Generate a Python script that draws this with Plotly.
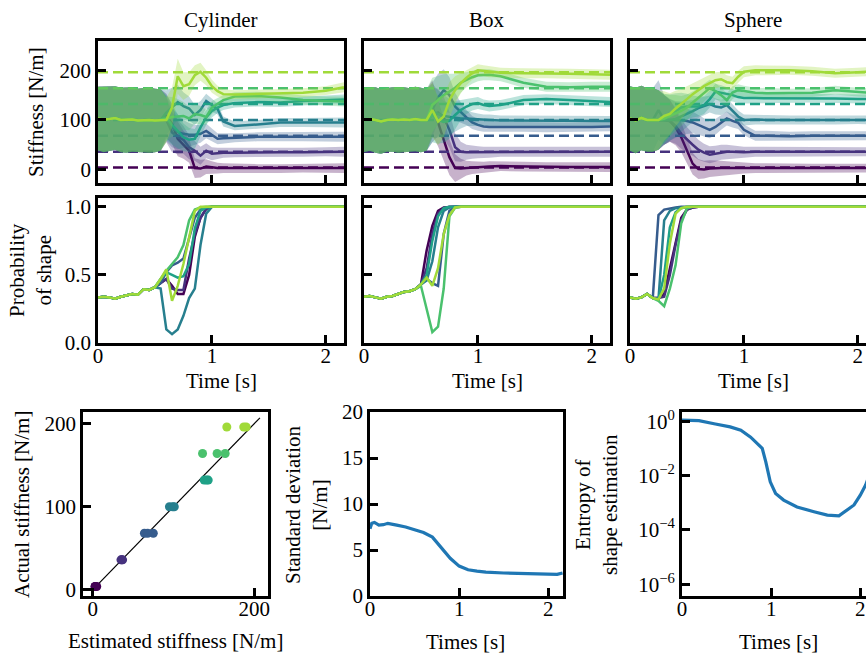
import plotly.graph_objects as go

W, H = 866, 656
FONT = "Liberation Serif, Times New Roman, DejaVu Serif, serif"
FS = 21

COLORS = ["#440154", "#46327e", "#365c8d", "#277f8e", "#1fa187", "#4ac16d", "#a0da39"]
TRUE_STIFFNESS = [4, 36, 68, 100, 132, 164, 196]
SHAPES = ["Cylinder", "Box", "Sphere"]

# ---------------- Stiffness estimates (mean / std) ----------------
cyl_t_pre = [0.0, 0.05, 0.1, 0.15, 0.2, 0.25, 0.3, 0.35, 0.4, 0.45, 0.5, 0.55]
cyl_mean_pre = [103, 101, 102, 104, 100, 100, 101, 99, 100, 100, 99, 100]
cyl_std_pre = [64, 66, 65, 64, 65, 66, 65, 64, 65, 66, 64, 62]
cyl_t_post = [0.6, 0.65, 0.7, 0.75, 0.8, 0.85, 0.9, 0.95, 1.0, 1.05, 1.1, 1.2, 1.4, 1.6, 1.8, 2.0, 2.16]
cyl_std_post = [45, 40, 35, 28, 24, 20, 18, 15, 13, 11, 10, 9, 9, 9, 9, 9, 10]
cyl_mean_post = [
    [108, 92, 62, 50, 38, 3, 2, 6, 4, 3, 3, 3, 2, 2, 3, 3, 3],
    [100, 75, 66, 60, 45, 38, 28, 38, 32, 33, 34, 34, 35, 35, 35, 36, 36],
    [102, 85, 76, 72, 70, 70, 72, 78, 70, 62, 63, 64, 66, 66, 66, 66, 66],
    [115, 125, 136, 128, 123, 110, 120, 138, 130, 122, 97, 88, 91, 95, 95, 95, 95],
    [105, 90, 78, 65, 60, 62, 85, 105, 118, 125, 130, 134, 136, 135, 138, 140, 141],
    [102, 106, 107, 108, 103, 112, 110, 106, 125, 133, 140, 147, 148, 145, 140, 138, 137],
    [100, 125, 188, 168, 172, 190, 197, 185, 168, 158, 152, 151, 152, 153, 155, 159, 166],
]

box_t_pre = [0.0, 0.05, 0.1, 0.15, 0.2, 0.25, 0.3, 0.35, 0.4, 0.45, 0.5]
box_mean_pre = [100, 102, 100, 97, 100, 101, 100, 101, 100, 102, 100]
box_std_pre = [65, 64, 66, 65, 64, 65, 66, 65, 64, 65, 65]
box_t_post = [0.55, 0.6, 0.65, 0.7, 0.75, 0.8, 0.85, 0.9, 0.95, 1.0, 1.05, 1.1, 1.2, 1.4, 1.6, 1.8, 2.0, 2.16]
box_std_post = [62, 55, 48, 42, 36, 28, 20, 15, 13, 12, 11, 11, 10, 10, 10, 10, 10, 10]
box_mean_post = [
    [100, 125, 95, 60, 25, 3, 2, 3, 4, 4, 5, 6, 7, 6, 5, 5, 5, 5],
    [100, 110, 115, 105, 80, 45, 36, 35, 35, 35, 35, 35, 36, 36, 36, 36, 36, 36],
    [100, 120, 145, 160, 150, 127, 115, 105, 95, 90, 87, 86, 86, 86, 85, 85, 86, 87],
    [100, 118, 112, 108, 106, 104, 103, 103, 102, 101, 100, 100, 99, 99, 99, 99, 98, 98],
    [100, 110, 100, 96, 98, 110, 120, 127, 132, 134, 130, 128, 130, 140, 142, 140, 138, 136],
    [100, 130, 140, 150, 157, 165, 175, 181, 186, 190, 191, 191, 188, 175, 167, 166, 167, 167],
    [100, 120, 97, 107, 140, 160, 174, 185, 194, 200, 199, 197, 195, 194, 194, 193, 192, 191],
]

sph_t_pre = [0.0, 0.05, 0.1, 0.15, 0.2]
sph_mean_pre = [103, 99, 104, 100, 100]
sph_std_pre = [65, 66, 65, 64, 64]
sph_t_post = [0.25, 0.3, 0.35, 0.4, 0.45, 0.5, 0.55, 0.6, 0.65, 0.7, 0.75, 0.8, 0.85, 0.9, 0.95,
              1.0, 1.1, 1.2, 1.4, 1.6, 1.8, 2.0, 2.16]
sph_std_post = [60, 50, 42, 36, 30, 26, 22, 20, 18, 17, 16, 15, 14, 13, 12, 11, 10, 10, 9, 9, 9, 9, 9]
sph_mean_post = [
    [100, 100, 98, 85, 65, 38, 12, 1, 0, 2, 3, 3, 3, 3, 3, 3, 3, 3, 3, 3, 3, 3, 3],
    [100, 100, 98, 88, 72, 60, 50, 40, 34, 30, 32, 35, 36, 36, 35, 35, 36, 36, 36, 36, 36, 36, 36],
    [120, 100, 100, 100, 100, 98, 95, 90, 85, 80, 86, 95, 103, 98, 94, 80, 68, 68, 67, 68, 68, 68, 68],
    [100, 100, 100, 102, 107, 112, 118, 124, 128, 132, 127, 125, 130, 118, 107, 100, 101, 100, 100, 100, 100, 101, 100],
    [100, 102, 110, 118, 125, 127, 127, 127, 130, 142, 157, 155, 152, 150, 146, 144, 144, 144, 143, 144, 143, 142, 142],
    [100, 103, 108, 114, 118, 125, 135, 144, 155, 164, 158, 150, 140, 155, 160, 158, 155, 154, 154, 155, 160, 156, 154],
    [100, 108, 112, 123, 132, 142, 152, 160, 168, 174, 180, 182, 176, 174, 187, 197, 200, 200, 200, 198, 194, 196, 198],
]

# ---------------- Probability of shape ----------------
cyl_pt_pre = [0.0, 0.05, 0.1, 0.15, 0.2, 0.25, 0.3, 0.35, 0.4, 0.45, 0.5]
cyl_p_pre = [0.335, 0.34, 0.335, 0.325, 0.34, 0.35, 0.36, 0.355, 0.395, 0.39, 0.41]
cyl_pt_post = [0.55, 0.6, 0.65, 0.7, 0.75, 0.8, 0.85, 0.9, 0.95, 1.0, 1.1, 2.16]
cyl_p_post = [
    [0.44, 0.47, 0.42, 0.36, 0.36, 0.50, 0.78, 0.92, 0.985, 1.0, 1.0, 1.0],
    [0.44, 0.47, 0.40, 0.39, 0.39, 0.62, 0.80, 0.92, 0.985, 1.0, 1.0, 1.0],
    [0.44, 0.52, 0.57, 0.59, 0.62, 0.78, 0.92, 0.98, 0.995, 1.0, 1.0, 1.0],
    [0.40, 0.10, 0.065, 0.10, 0.20, 0.33, 0.40, 0.72, 0.95, 1.0, 1.0, 1.0],
    [0.47, 0.52, 0.50, 0.48, 0.49, 0.58, 0.84, 0.97, 0.995, 1.0, 1.0, 1.0],
    [0.47, 0.53, 0.58, 0.63, 0.72, 0.90, 0.98, 0.995, 1.0, 1.0, 1.0, 1.0],
    [0.47, 0.54, 0.31, 0.42, 0.58, 0.78, 0.97, 1.0, 1.0, 1.0, 1.0, 1.0],
]

box_pt_pre = [0.0, 0.05, 0.1, 0.15, 0.2, 0.25, 0.3, 0.35, 0.4, 0.45]
box_p_pre = [0.34, 0.345, 0.335, 0.325, 0.34, 0.345, 0.36, 0.375, 0.38, 0.395]
box_pt_post = [0.5, 0.55, 0.6, 0.65, 0.7, 0.75, 0.8, 0.85, 2.16]
box_p_post = [
    [0.43, 0.68, 0.86, 0.97, 0.995, 1.0, 1.0, 1.0, 1.0],
    [0.43, 0.55, 0.80, 0.95, 0.99, 1.0, 1.0, 1.0, 1.0],
    [0.43, 0.47, 0.44, 0.42, 0.80, 0.97, 0.995, 1.0, 1.0],
    [0.43, 0.46, 0.60, 0.85, 0.97, 0.995, 1.0, 1.0, 1.0],
    [0.43, 0.50, 0.75, 0.93, 0.99, 1.0, 1.0, 1.0, 1.0],
    [0.42, 0.25, 0.08, 0.12, 0.40, 0.93, 0.995, 1.0, 1.0],
    [0.43, 0.48, 0.42, 0.55, 0.80, 0.94, 0.995, 1.0, 1.0],
]

sph_pt_pre = [0.0, 0.05, 0.1, 0.15]
sph_p_pre = [0.335, 0.325, 0.335, 0.36]
sph_pt_post = [0.2, 0.25, 0.3, 0.35, 0.4, 0.45, 0.5, 0.55, 0.6, 2.16]
sph_p_post = [
    [0.33, 0.33, 0.36, 0.55, 0.75, 0.92, 0.98, 0.995, 1.0, 1.0],
    [0.33, 0.33, 0.34, 0.50, 0.72, 0.90, 0.98, 0.995, 1.0, 1.0],
    [0.33, 0.94, 0.98, 0.99, 0.995, 1.0, 1.0, 1.0, 1.0, 1.0],
    [0.33, 0.32, 0.90, 0.97, 0.99, 0.995, 1.0, 1.0, 1.0, 1.0],
    [0.33, 0.32, 0.50, 0.85, 0.96, 0.99, 1.0, 1.0, 1.0, 1.0],
    [0.33, 0.31, 0.27, 0.40, 0.57, 0.88, 0.99, 1.0, 1.0, 1.0],
    [0.33, 0.32, 0.40, 0.73, 0.95, 0.99, 1.0, 1.0, 1.0, 1.0],
]

# ---------------- Final estimates (cylinder, box, sphere) ----------------
final_estimates = [
    [3, 5, 3],
    [36, 35, 37],
    [64, 75, 68],
    [95, 99, 101],
    [141, 138, 143],
    [136, 164, 154],
    [166, 190, 187],
]
ideal_line = [5, 207]

# ---------------- Aggregate std and entropy ----------------
agg_t = [0.0, 0.02, 0.05, 0.1, 0.15, 0.2, 0.3, 0.4, 0.5, 0.6, 0.7, 0.8, 0.9, 1.0, 1.1, 1.2, 1.3,
         1.5, 1.7, 1.9, 2.0, 2.1, 2.16]
agg_std = [7.3, 7.9, 8.0, 7.7, 7.75, 7.9, 7.7, 7.5, 7.2, 6.9, 6.4, 5.3, 4.1, 3.25, 2.85, 2.7, 2.6,
           2.5, 2.45, 2.42, 2.4, 2.35, 2.5]
ent_t = [0.0, 0.19, 0.36, 0.54, 0.66, 0.77, 0.9, 0.94, 0.99, 1.05, 1.14, 1.29, 1.48, 1.63, 1.76,
         1.82, 1.93, 2.0, 2.06, 2.1, 2.16]
ent_val = [1.1, 1.05, 0.81, 0.62, 0.47, 0.26, 0.1, 0.032, 0.0059, 0.0022, 0.00126, 0.0007, 0.00047,
           0.00035, 0.00033, 0.00047, 0.00083, 0.0019, 0.0045, 0.01, 0.03]


def rgba(hexc, a):
    h = hexc.lstrip("#")
    r, g, b = int(h[0:2], 16), int(h[2:4], 16), int(h[4:6], 16)
    return f"rgba({r},{g},{b},{a})"


fig = go.Figure()

stiff_sets = [
    (cyl_t_pre, cyl_mean_pre, cyl_std_pre, cyl_t_post, cyl_mean_post, cyl_std_post),
    (box_t_pre, box_mean_pre, box_std_pre, box_t_post, box_mean_post, box_std_post),
    (sph_t_pre, sph_mean_pre, sph_std_pre, sph_t_post, sph_mean_post, sph_std_post),
]
for j, (tp, mp, sp, tq, mq, sq) in enumerate(stiff_sets):
    ax = j + 1
    xa, ya = f"x{ax}", f"y{ax}"
    t = tp + tq
    sd = sp + sq
    for k in range(7):
        m = mp + mq[k]
        up = [a + b for a, b in zip(m, sd)]
        lo = [a - b for a, b in zip(m, sd)]
        fig.add_trace(go.Scatter(x=t + t[::-1], y=up + lo[::-1], fill="toself",
                                 fillcolor=rgba(COLORS[k], 0.3), line=dict(width=0),
                                 mode="lines", hoverinfo="skip", xaxis=xa, yaxis=ya))
        fig.add_trace(go.Scatter(x=t, y=m, mode="lines", line=dict(color=COLORS[k], width=2.5),
                                 xaxis=xa, yaxis=ya))
        fig.add_trace(go.Scatter(x=[t[0], t[-1]], y=[TRUE_STIFFNESS[k]] * 2, mode="lines",
                                 line=dict(color=COLORS[k], width=2.5, dash="10px,5px"),
                                 xaxis=xa, yaxis=ya))

prob_sets = [
    (cyl_pt_pre, cyl_p_pre, cyl_pt_post, cyl_p_post),
    (box_pt_pre, box_p_pre, box_pt_post, box_p_post),
    (sph_pt_pre, sph_p_pre, sph_pt_post, sph_p_post),
]
for j, (tp, pp, tq, pq) in enumerate(prob_sets):
    ax = j + 4
    for k in range(7):
        fig.add_trace(go.Scatter(x=tp + tq, y=pp + pq[k], mode="lines",
                                 line=dict(color=COLORS[k], width=2.5),
                                 xaxis=f"x{ax}", yaxis=f"y{ax}"))

fig.add_trace(go.Scatter(x=ideal_line, y=ideal_line, mode="lines",
                         line=dict(color="black", width=1.2), xaxis="x7", yaxis="y7"))
for k in range(7):
    fig.add_trace(go.Scatter(x=final_estimates[k], y=[TRUE_STIFFNESS[k]] * len(final_estimates[k]),
                             mode="markers", marker=dict(color=COLORS[k], size=9, line=dict(width=0)),
                             xaxis="x7", yaxis="y7"))

fig.add_trace(go.Scatter(x=agg_t, y=agg_std, mode="lines", line=dict(color="#1f77b4", width=3.2),
                         xaxis="x8", yaxis="y8"))
fig.add_trace(go.Scatter(x=ent_t, y=ent_val, mode="lines", line=dict(color="#1f77b4", width=3.2),
                         xaxis="x9", yaxis="y9"))

# ---------------- Layout ----------------
def dx(a, b):
    return [a / W, min(b, W) / W]


def dy(top, bot):
    return [1 - bot / H, 1 - top / H]


base = dict(showgrid=False, zeroline=False, showline=True, linecolor="black", linewidth=2.8,
            ticks="inside", ticklen=8, tickwidth=2.6, tickcolor="black",
            tickfont=dict(family=FONT, size=FS, color="black"), automargin=False)
xbase = dict(base, ticklabelstandoff=-8)

rows_top = (41, 183)
rows_mid = (198, 343)
cols = [(98, 344), (364, 610), (630, 876)]
pxs = (344 - 98) / 2.16
layout = {}
for j, (a, b) in enumerate(cols):
    xr = [0, (min(b, W) - a) / pxs]
    last = j == 2
    layout[f"xaxis{j+1}"] = dict(xbase, domain=dx(a, b), range=xr, tickvals=[0, 1, 2],
                                 showticklabels=False, mirror=True, anchor=f"y{j+1}")
    layout[f"yaxis{j+1}"] = dict(base, domain=dy(*rows_top), range=[-27, 259], tickvals=[0, 100, 200],
                                 showticklabels=(j == 0), mirror=not last, anchor=f"x{j+1}")
    layout[f"xaxis{j+4}"] = dict(xbase, domain=dx(a, b), range=xr, tickvals=[0, 1, 2],
                                 mirror=True, anchor=f"y{j+4}")
    layout[f"yaxis{j+4}"] = dict(base, domain=dy(*rows_mid), range=[0, 1.065], tickvals=[0, 0.5, 1.0],
                                 ticktext=["0.0", "0.5", "1.0"], showticklabels=(j == 0),
                                 mirror=not last, anchor=f"x{j+4}")

rows_bot = (412, 596)
layout["xaxis7"] = dict(xbase, domain=dx(83, 268), range=[-12, 217], tickvals=[0, 200], mirror=True, anchor="y7")
layout["yaxis7"] = dict(base, domain=dy(*rows_bot), range=[-7.5, 214], tickvals=[0, 100, 200], mirror=True, anchor="x7")
pxb = (563 - 370) / 2.165
layout["xaxis8"] = dict(xbase, domain=dx(370, 563), range=[0, 2.165], tickvals=[0, 1, 2], mirror=True, anchor="y8")
layout["yaxis8"] = dict(base, domain=dy(*rows_bot), range=[0, 20], tickvals=[0, 5, 10, 15, 20], mirror=True, anchor="x8")
layout["xaxis9"] = dict(xbase, domain=dx(682, 875), range=[0, (W - 682) / pxb], tickvals=[0, 1, 2], mirror=True, anchor="y9")
layout["yaxis9"] = dict(base, domain=dy(*rows_bot), type="log", range=[-6.43, 0.34],
                        tickvals=[1, 1e-2, 1e-4, 1e-6],
                        ticktext=["10<sup>0</sup>", "10<sup>−2</sup>", "10<sup>−4</sup>", "10<sup>−6</sup>"],
                        mirror=False, anchor="x9")

ann = []


def add_ann(text, px, py, angle=0):
    ann.append(dict(text=text, x=px / W, y=1 - py / H, xref="paper", yref="paper",
                    xanchor="center", yanchor="middle", showarrow=False, textangle=angle,
                    font=dict(family=FONT, size=FS, color="black")))


for name, cx in zip(SHAPES, [221, 487, 753]):
    add_ann(name, cx, 20)
    add_ann("Time [s]", cx, 381)
add_ann("Stiffness [N/m]", 36, 112, -90)
add_ann("Probability<br>of shape", 30, 270, -90)
add_ann("Actual stiffness [N/m]", 22, 505, -90)
add_ann("Estimated stiffness [N/m]", 175, 641)
add_ann("Standard deviation<br>[N/m]", 306, 505, -90)
add_ann("Times [s]", 466, 642)
add_ann("Entropy of<br>shape estimation", 596, 505, -90)
add_ann("Times [s]", 778, 642)

fig.update_layout(width=W, height=H, margin=dict(l=0, r=0, t=0, b=0, autoexpand=False),
                  paper_bgcolor="white", plot_bgcolor="white", showlegend=False,
                  font=dict(family=FONT, size=FS, color="black"), annotations=ann, **layout)

fig.write_html("out.html", config={"displayModeBar": False},
               post_script="document.body.style.margin='0';document.body.style.padding='0';")
